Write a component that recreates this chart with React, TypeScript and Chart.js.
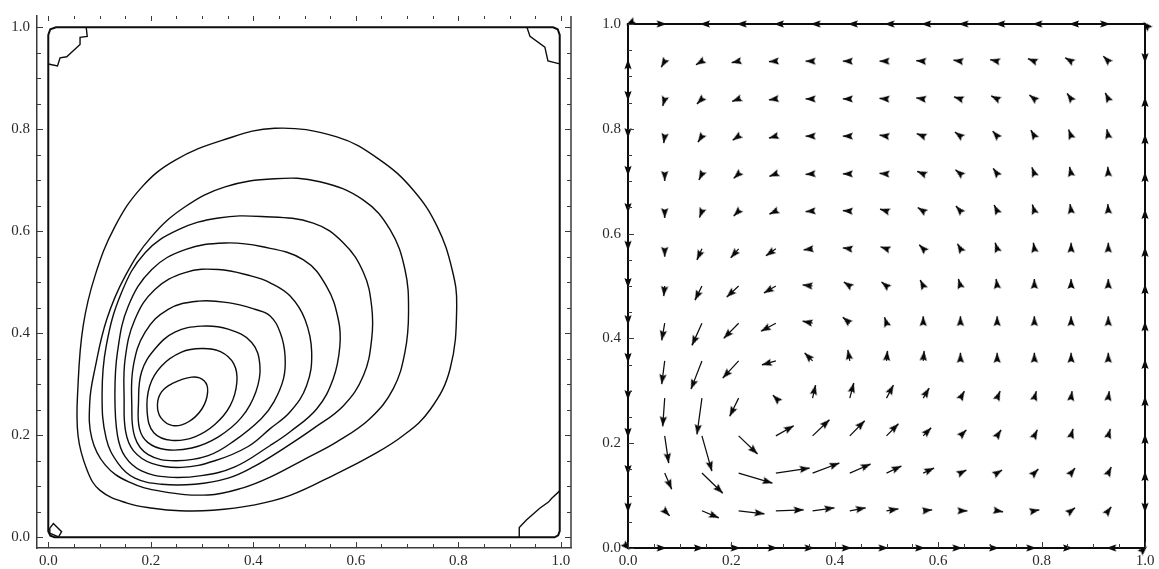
import React, { useEffect, useRef } from 'react';
import { Chart, registerables } from 'chart.js';

Chart.register(...registerables);

// ---------------- DATA ----------------
const tickStep = 0.05;
const labelStep = 0.2;

// Left panel: stream-function contour lines (x, y pairs)
const contour1 = [[0.442,0.802],[0.339,0.778],[0.247,0.739],[0.183,0.687],[0.130,0.609],[0.091,0.512],[0.068,0.414],[0.058,0.297],[0.058,0.200],[0.076,0.131],[0.101,0.092],[0.154,0.067],[0.204,0.057],[0.257,0.052],[0.321,0.053],[0.400,0.063],[0.472,0.082],[0.563,0.125],[0.627,0.158],[0.692,0.199],[0.745,0.250],[0.784,0.330],[0.797,0.453],[0.788,0.525],[0.759,0.609],[0.712,0.681],[0.647,0.740],[0.563,0.785]];
const contour2 = [[0.442,0.703],[0.345,0.687],[0.267,0.648],[0.202,0.590],[0.150,0.512],[0.114,0.427],[0.091,0.330],[0.081,0.266],[0.085,0.194],[0.111,0.142],[0.156,0.109],[0.221,0.090],[0.312,0.083],[0.380,0.097],[0.433,0.118],[0.498,0.152],[0.563,0.187],[0.628,0.233],[0.673,0.291],[0.696,0.363],[0.703,0.441],[0.696,0.525],[0.667,0.603],[0.615,0.661],[0.530,0.697]];
const contour3 = [[0.416,0.629],[0.332,0.626],[0.254,0.603],[0.189,0.558],[0.143,0.480],[0.113,0.375],[0.105,0.280],[0.113,0.194],[0.137,0.144],[0.169,0.116],[0.221,0.104],[0.286,0.104],[0.351,0.116],[0.400,0.138],[0.459,0.174],[0.517,0.213],[0.576,0.258],[0.615,0.317],[0.631,0.388],[0.631,0.453],[0.615,0.519],[0.576,0.577],[0.517,0.616]];
const contour4 = [[0.416,0.570],[0.345,0.577],[0.267,0.564],[0.202,0.525],[0.156,0.453],[0.135,0.363],[0.130,0.280],[0.135,0.200],[0.150,0.158],[0.182,0.130],[0.234,0.118],[0.299,0.121],[0.364,0.138],[0.433,0.180],[0.472,0.207],[0.524,0.252],[0.556,0.311],[0.569,0.375],[0.566,0.427],[0.543,0.492],[0.498,0.544]];
const contour5 = [[0.433,0.499],[0.397,0.512],[0.332,0.525],[0.267,0.519],[0.208,0.486],[0.169,0.427],[0.150,0.350],[0.148,0.270],[0.151,0.207],[0.166,0.170],[0.202,0.145],[0.260,0.137],[0.325,0.150],[0.390,0.178],[0.433,0.213],[0.472,0.246],[0.504,0.297],[0.514,0.363],[0.501,0.427],[0.472,0.473]];
const contour6 = [[0.433,0.434],[0.403,0.447],[0.351,0.460],[0.293,0.463],[0.234,0.447],[0.189,0.402],[0.166,0.336],[0.163,0.260],[0.169,0.196],[0.195,0.162],[0.247,0.150],[0.312,0.160],[0.364,0.190],[0.416,0.233],[0.440,0.265],[0.459,0.311],[0.462,0.356],[0.453,0.400]];
const contour7 = [[0.299,0.414],[0.247,0.402],[0.208,0.369],[0.182,0.324],[0.176,0.262],[0.178,0.213],[0.194,0.186],[0.228,0.172],[0.280,0.175],[0.332,0.197],[0.377,0.235],[0.405,0.285],[0.413,0.336],[0.397,0.382],[0.351,0.408]];
const contour8 = [[0.299,0.370],[0.260,0.363],[0.221,0.336],[0.198,0.297],[0.193,0.245],[0.206,0.205],[0.241,0.190],[0.286,0.197],[0.325,0.221],[0.355,0.258],[0.368,0.304],[0.362,0.340],[0.336,0.364]];
const contour9 = [[0.280,0.314],[0.241,0.301],[0.221,0.285],[0.213,0.260],[0.220,0.234],[0.243,0.219],[0.273,0.226],[0.300,0.252],[0.311,0.285],[0.304,0.307]];

// zero contour along the walls and the small corner eddies
const wallContour = [[0,0.985],[0,0.012],[0.004,0.003],[0.012,0],[0.988,0],[0.995,0.004],[0.998,0.012],[0.998,0.985],[0.994,0.996],[0.985,1],[0.015,1],[0.004,0.996],[0,0.985]];
const eddyTopLeft = [[0,0.928],[0.018,0.924],[0.023,0.940],[0.036,0.942],[0.062,0.966],[0.062,0.980],[0.076,0.982],[0.074,1.0]];
const eddyTopRight = [[0.934,1.0],[0.940,0.982],[0.969,0.961],[0.975,0.934],[0.998,0.928]];
const eddyBottomRight = [[0.920,0],[0.919,0.019],[0.933,0.034],[0.959,0.057],[0.976,0.069],[0.982,0.076],[0.998,0.091]];
const eddyBottomLeft = [[0.003,0.018],[0.010,0.027],[0.026,0.011],[0.020,0.001],[0.003,0.008],[0.003,0.018]];

// Right panel: velocity field on the interior grid (rows from top to bottom)
const gridX = [0.071,0.143,0.214,0.286,0.357,0.429,0.5,0.571,0.643,0.714,0.786,0.857,0.929];
const gridY = [0.929,0.857,0.786,0.714,0.643,0.571,0.5,0.429,0.357,0.286,0.214,0.143,0.071];
const velU = [
  [-3.5,-6,-7,-7,-7,-7,-7,-7,-7,-7,-6.5,-6,-5],
  [-2,-5,-6.5,-7,-7,-7,-7,-7,-6.5,-6,-5,-4,-3],
  [-1,-4,-6,-7,-7,-7,-7,-6.5,-5.5,-4.5,-3.5,-2.5,-1.5],
  [0,-3,-5,-6.5,-7,-7,-7,-6,-5,-4,-2.5,-1.5,-0.5],
  [0,-2.5,-5,-6.5,-7,-7,-6.5,-5.5,-4.5,-3,-2,-1,-0.5],
  [0,-5,-8,-10,-9,-7,-6,-4,-3,-2,-1,0,0],
  [-1,-7,-12,-12,-10,-6,-5,-3,-2,-1,0,0,0],
  [-3,-10,-15,-15,-10,-7,-2,0,0,0,0,0,0],
  [-3,-11,-16,-14,-8,-2,1,1,0,0,0,0,0],
  [-2,-5,-9,-3,3,4,7,6,4,3,2,1,1],
  [4,10,19,18,17,15,12,8,6,4,3,2,2],
  [7,21,34,34,27,21,15,11,6,5,4,4,3],
  [5,17,26,28,22,16,12,9,7,6,5,4,3],
];
const velV = [
  [-6,-3.5,-1.5,-0.5,0,0,0,0.5,1,1.5,2.5,3.5,5],
  [-7,-5,-2.5,-1,0,0,0.5,1,2,3,4,5.5,6],
  [-7,-6,-4,-2,0,0,1,2.5,4,5,6,6.5,7],
  [-7,-6,-4.5,-2.5,-0.5,0,0.5,2.5,4,5.5,6.5,7,7],
  [-7,-6.5,-5,-3,-0.5,0.5,2,3.5,5,6,6.5,7,7],
  [-8,-11,-9,-7,-1,1,2,4,5,6,6,6,6],
  [-10,-14,-11,-7,1,4,4,6,7,7,7,7,7],
  [-17,-22,-15,-8,2,6,6,7,7,7,7,7,7],
  [-23,-28,-17,-4,8,11,10,10,8,8,8,8,8],
  [-28,-36,-18,3,13,15,13,10,7,7,7,7,7],
  [-27,-35,-18,10,16,15,12,8,6,6,6,7,7],
  [-16,-20,-10,5,10,9,7,5,3,3,4,5,6],
  [-5,-7,-3,1,3,3,2,1,0,-1,1,3,4],
];
// wall vectors (tiny, shown as heads only)
const wallTopU = [2,-2,-2,-2,-2,-2,-2,-2,-2,-2,-2,-2,2];
const wallBottomU = [2,2,2,2,2,2,2,2,2,2,2,2,-2];
const wallLeftV = [2,-2,-2,-2,-2,-2,-2,-2,-2,-2,-2,-2,-2];
const wallRightV = [-2,2,2,2,2,2,2,2,2,2,2,2,-2];
const cornerPts = [[0,1],[1,1],[0,0],[1,0]];
const cornerVec = [[-2,-1],[-2,2],[2,-2],[2,2]];

// ---------------- STYLE ----------------
const VEC_SCALE = 1 / 520;
const FONT = { family: "'Liberation Serif', 'DejaVu Serif', serif", size: 15 };
const TEXT = '#2a2a2a';
const AXIS = '#3a3a3a';
const INK = '#0d0d0d';
const HIDDEN = 'rgba(0,0,0,0)';

const isLabel = (v: number) => Math.abs(v / labelStep - Math.round(v / labelStep)) < 1e-6;

function axisOpts(min: number, max: number, fit: (s: any) => void, pad: number) {
  return {
    type: 'linear',
    min,
    max,
    grid: { display: false, drawTicks: false },
    border: { display: true, color: AXIS, width: 1.5 },
    ticks: {
      stepSize: tickStep,
      includeBounds: false,
      autoSkip: false,
      maxRotation: 0,
      minRotation: 0,
      padding: pad,
      color: TEXT,
      font: FONT,
      callback: (v: any) => (isLabel(Number(v)) ? Number(v).toFixed(1) : ''),
    },
    afterFit: fit,
  };
}

function tickPlugin(sides: { left?: boolean; right?: boolean; top?: boolean; bottom?: boolean; rightLine?: boolean }) {
  return {
    id: 'inwardTicks',
    afterDraw(chart: any) {
      const { ctx, chartArea: a, scales } = chart;
      ctx.save();
      ctx.strokeStyle = AXIS;
      ctx.lineWidth = 1;
      ctx.beginPath();
      for (const t of scales.x.ticks) {
        const px = Math.round(scales.x.getPixelForValue(t.value)) + 0.5;
        const len = isLabel(t.value) ? 6 : 4;
        if (sides.bottom) { ctx.moveTo(px, a.bottom); ctx.lineTo(px, a.bottom - len); }
        if (sides.top) { ctx.moveTo(px, a.top); ctx.lineTo(px, a.top + len - 1); }
      }
      for (const t of scales.y.ticks) {
        const py = Math.round(scales.y.getPixelForValue(t.value)) + 0.5;
        const len = isLabel(t.value) ? 6 : 4;
        if (sides.left) { ctx.moveTo(a.left, py); ctx.lineTo(a.left + len, py); }
        if (sides.right) { ctx.moveTo(a.right, py); ctx.lineTo(a.right - len, py); }
      }
      ctx.stroke();
      if (sides.rightLine) {
        ctx.lineWidth = 1.5;
        ctx.beginPath();
        ctx.moveTo(a.right, a.top);
        ctx.lineTo(a.right, a.bottom);
        ctx.stroke();
      }
      ctx.restore();
    },
  };
}

const toPts = (arr: number[][]) => arr.map(([x, y]) => ({ x, y }));
// closed smooth loop: one wrapped point on each side gives the spline neighbours at the join;
// the two padding segments are made invisible so every segment is drawn exactly once.
const closed = (arr: number[][]) => toPts([arr[arr.length - 1], ...arr, arr[0], arr[1]]);

function leftConfig(): any {
  const contours = [contour1, contour2, contour3, contour4, contour5, contour6, contour7, contour8, contour9];
  const datasets: any[] = contours.map((c) => ({
    type: 'line',
    data: closed(c),
    borderColor: INK,
    borderWidth: 1.4,
    pointRadius: 0,
    tension: 0.4,
    fill: false,
    segment: {
      borderColor: (s: any) => (s.p0DataIndex === 0 || s.p0DataIndex === c.length + 1 ? HIDDEN : INK),
    },
  }));
  datasets.push({ type: 'line', data: toPts(wallContour), borderColor: INK, borderWidth: 2, pointRadius: 0, tension: 0, fill: false });
  [eddyTopLeft, eddyTopRight, eddyBottomRight, eddyBottomLeft].forEach((e) =>
    datasets.push({ type: 'line', data: toPts(e), borderColor: INK, borderWidth: 1.4, pointRadius: 0, tension: 0, fill: false })
  );
  return {
    type: 'line',
    data: { datasets },
    options: {
      responsive: false,
      animation: false,
      devicePixelRatio: 1,
      events: [],
      layout: { padding: { top: 13, right: 9, bottom: 0, left: 0 } },
      plugins: { legend: { display: false }, tooltip: { enabled: false } },
      scales: {
        x: axisOpts(-0.022, 1.02, (s) => { s.height = 21; }, 4),
        y: axisOpts(-0.021, 1.022, (s) => { s.width = 37; }, 7),
      },
    },
    plugins: [tickPlugin({ left: true, right: true, top: true, bottom: true, rightLine: true })],
  };
}

function makeHead(): HTMLCanvasElement {
  const c = document.createElement('canvas');
  c.width = 24;
  c.height = 24;
  const g = c.getContext('2d')!;
  g.fillStyle = '#000';
  g.beginPath();
  g.moveTo(12, 12);
  g.lineTo(15.6, 22);
  g.lineTo(12, 20.2);
  g.lineTo(8.4, 22);
  g.closePath();
  g.fill();
  return c;
}

function rightConfig(head: HTMLCanvasElement): any {
  const shafts: any[] = [];
  const heads: any[] = [];
  const addArrow = (x: number, y: number, u: number, v: number, shaft: boolean) => {
    const tx = x + u * VEC_SCALE;
    const ty = y + v * VEC_SCALE;
    if (shaft) {
      shafts.push({ x, y }, { x: tx, y: ty }, { x: tx, y: null });
    }
    heads.push({ x: tx, y: ty, u: u * VEC_SCALE, v: v * VEC_SCALE });
  };
  gridY.forEach((y, r) => gridX.forEach((x, c) => addArrow(x, y, velU[r][c], velV[r][c], true)));
  gridX.forEach((x, i) => {
    addArrow(x, 1, wallTopU[i], 0, false);
    addArrow(x, 0, wallBottomU[i], 0, false);
  });
  gridY.forEach((y, i) => {
    addArrow(0, y, 0, wallLeftV[i], false);
    addArrow(1, y, 0, wallRightV[i], false);
  });
  cornerPts.forEach(([x, y], i) => addArrow(x, y, cornerVec[i][0], cornerVec[i][1], false));

  const rotation = (ctx: any) => {
    const p = ctx.raw;
    if (!p || p.u === undefined) return 0;
    const sx = ctx.chart.scales.x;
    const sy = ctx.chart.scales.y;
    const dx = sx.getPixelForValue(p.x) - sx.getPixelForValue(p.x - p.u);
    const dy = sy.getPixelForValue(p.y) - sy.getPixelForValue(p.y - p.v);
    return (Math.atan2(dx, -dy) * 180) / Math.PI;
  };

  return {
    type: 'line',
    data: {
      datasets: [
        { type: 'line', data: toPts([[0, 0], [1, 0], [1, 1], [0, 1], [0, 0]]), borderColor: INK, borderWidth: 2, pointRadius: 0, tension: 0, clip: false },
        { type: 'line', data: shafts, borderColor: INK, borderWidth: 1.25, pointRadius: 0, tension: 0, spanGaps: false },
        {
          type: 'scatter',
          data: heads,
          showLine: false,
          pointStyle: head,
          pointRadius: 6,
          pointRotation: rotation,
          clip: false,
        },
      ],
    },
    options: {
      responsive: false,
      animation: false,
      devicePixelRatio: 1,
      events: [],
      layout: { padding: { top: 24, right: 14, bottom: 0, left: 0 } },
      plugins: { legend: { display: false }, tooltip: { enabled: false } },
      scales: {
        x: axisOpts(0, 1, (s) => { s.height = 21; }, 4),
        y: axisOpts(0, 1, (s) => { s.width = 48; }, 7),
      },
    },
    plugins: [tickPlugin({ left: true, bottom: true })],
  };
}

export default function App() {
  const leftRef = useRef<HTMLCanvasElement>(null);
  const rightRef = useRef<HTMLCanvasElement>(null);
  useEffect(() => {
    const c1 = new Chart(leftRef.current as HTMLCanvasElement, leftConfig());
    const c2 = new Chart(rightRef.current as HTMLCanvasElement, rightConfig(makeHead()));
    return () => {
      c1.destroy();
      c2.destroy();
    };
  }, []);
  return (
    <div style={{ position: 'fixed', left: 0, top: 0, width: 1159, height: 569, background: '#fff' }}>
      <canvas ref={leftRef} width={580} height={569} style={{ position: 'absolute', left: 0, top: 0 }} />
      <canvas ref={rightRef} width={579} height={569} style={{ position: 'absolute', left: 580, top: 0 }} />
    </div>
  );
}
